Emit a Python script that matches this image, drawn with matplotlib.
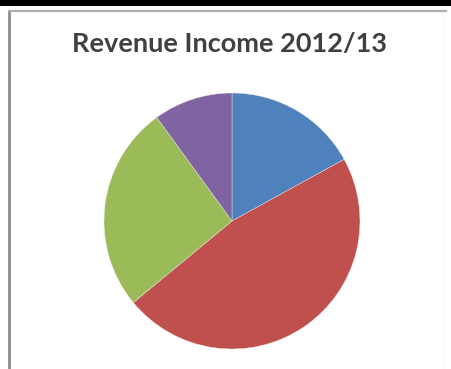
import matplotlib
matplotlib.use("agg")
import matplotlib.pyplot as plt
from matplotlib.lines import Line2D
from matplotlib.patches import Rectangle

# revenue split, clockwise from 12 o'clock
shares = [17, 47, 26, 10]
colours = ["#4F81BD", "#C0504D", "#9BBB59", "#8064A2"]
title = "Revenue Income 2012/13"

W, H = 451, 369
fig = plt.figure(figsize=(W / 100, H / 100), dpi=100)
fig.patch.set_facecolor("white")


def px(x, y):
    # pixel position (from top-left) to figure fraction
    return x / W, 1 - y / H


# thick rule across the top and the grey chart frame
fig.add_artist(Rectangle((0, 1 - 6 / H), 1, 6 / H, transform=fig.transFigure,
                         facecolor="black", edgecolor="none"))
fig.add_artist(Line2D([9 / W, 9 / W], [0, 1 - 11 / H], transform=fig.transFigure,
                      color="#8c8c8c", lw=2))
fig.add_artist(Line2D([9 / W, 446 / W], [1 - 11 / H, 1 - 11 / H],
                      transform=fig.transFigure, color="#b0b0b0", lw=1.6))
fig.add_artist(Line2D([443 / W, 443 / W], [0, 1 - 14 / H], transform=fig.transFigure,
                      color="#f8f8f8", lw=1))

cx, cy, r = 232, 221, 128
ax = fig.add_axes([(cx - r) / W, (H - cy - r) / H, 2 * r / W, 2 * r / H])
ax.pie(shares, colors=colours, startangle=90, counterclock=False,
       wedgeprops=dict(edgecolor="#e8e8e8", linewidth=0.3))
ax.set_xlim(-1, 1)
ax.set_ylim(-1, 1)
ax.set_aspect("equal")
ax.axis("off")

tx, ty = px(230, 44)
fig.text(tx, ty, title, ha="center", va="center", fontsize=19.5,
         fontweight="bold", family=["Lato", "DejaVu Sans"], color="#404040")

fig.savefig("out.png", dpi=100)
